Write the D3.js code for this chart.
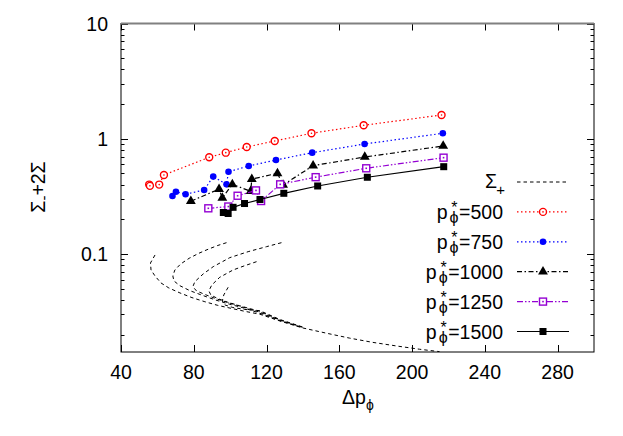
<!DOCTYPE html>
<html>
<head>
<meta charset="utf-8">
<script src="https://cdn.jsdelivr.net/npm/d3@7"></script>
<style>
  body { margin: 0; background: #fff; }
  text { font-family: "Liberation Sans", Arial, sans-serif; fill: #000; }
</style>
</head>
<body>
<svg id="canvas" width="623" height="436"></svg>
<script>
// tick values
var xTicks = [40, 80, 120, 160, 200, 240, 280];
var yTicks = [0.1, 1, 10];
var yTickLabels = ["0.1", "1", "10"];

// p*=500 .. 1500 series (delta p_phi, Sigma_- + 2 Sigma)
var dp500 = [55.5, 55.9, 61.0, 63.6, 88.5, 97.6, 109.1, 124.5, 144.7, 173.4, 216.2];
var s500  = [0.400, 0.390, 0.400, 0.485, 0.690, 0.757, 0.848, 0.956, 1.115, 1.308, 1.607];

var dp750 = [68.3, 70.2, 75.5, 85.7, 90.7, 98.0, 99.1, 110.2, 125.2, 145.1, 173.9, 216.9];
var s750  = [0.318, 0.347, 0.330, 0.359, 0.469, 0.402, 0.517, 0.580, 0.654, 0.757, 0.900, 1.115];

var dp1000 = [78.4, 93.9, 95.7, 101.2, 111.3, 111.9, 126.0, 129.1, 145.6, 174.0, 217.1];
var s1000  = [0.287, 0.365, 0.306, 0.402, 0.350, 0.446, 0.501, 0.397, 0.584, 0.694, 0.865];

var dp1250 = [88.0, 99.0, 104.1, 114.2, 117.0, 127.5, 147.0, 174.8, 217.3];
var s1250  = [0.249, 0.258, 0.320, 0.356, 0.288, 0.402, 0.464, 0.554, 0.685];

var dp1500 = [96.25, 98.9, 101.6, 107.9, 116.4, 129.5, 148.1, 175.4, 217.4];
var s1500  = [0.229, 0.2245, 0.254, 0.274, 0.297, 0.336, 0.389, 0.463, 0.572];

// Sigma_+ curves (one per p*)
var spDp1 = [58.7, 56.2, 56.5, 58.7, 62.0, 66.3, 72.4, 79.0, 86.1, 93.2, 101.0, 108.0, 116.3, 127.3, 139.9, 153.1, 165.7, 178.3, 191.5, 204.1, 215.1];
var spS1  = [0.098, 0.0835, 0.0726, 0.0644, 0.0560, 0.0507, 0.0459, 0.0418, 0.0385, 0.0358, 0.0336, 0.0318, 0.0300, 0.0262, 0.0228, 0.0205, 0.0186, 0.0171, 0.0159, 0.0149, 0.0142];

var spDp2 = [98.0, 93.2, 87.9, 82.8, 77.5, 72.8, 69.6, 68.5, 69.1, 72.4, 77.9, 85.0, 92.1, 99.8, 108.0, 116.3, 127.3, 139.9];
var spS2  = [0.1253, 0.1185, 0.1099, 0.1014, 0.0918, 0.0819, 0.0726, 0.0644, 0.0583, 0.0530, 0.0480, 0.0436, 0.0398, 0.0366, 0.0338, 0.0306, 0.0264, 0.0229];

var spDp3 = [128.2, 120.0, 109.9, 99.8, 90.7, 85.2, 80.6, 79.5, 81.5, 86.0, 92.0, 99.0, 107.0, 116.3, 127.3, 139.9];
var spS3  = [0.1253, 0.1157, 0.1047, 0.0929, 0.0776, 0.0671, 0.0575, 0.0520, 0.0478, 0.0446, 0.0410, 0.0378, 0.0346, 0.0312, 0.0266, 0.0230];

var spDp4 = [114.5, 108.0, 101.6, 94.3, 89.9, 88.3, 89.4, 93.2, 98.5, 105.0, 111.0, 116.3, 127.3, 139.9];
var spS4  = [0.0857, 0.0791, 0.0726, 0.0628, 0.0538, 0.0478, 0.0440, 0.0410, 0.0382, 0.0356, 0.0335, 0.0318, 0.0268, 0.0231];

var spDp5 = [98.9, 96.5, 95.7, 97.1, 101.5, 108.0, 116.3, 127.3, 139.9];
var spS5  = [0.0514, 0.0441, 0.0391, 0.0361, 0.0343, 0.0330, 0.0322, 0.0270, 0.0232];

var legendNames = ["500", "750", "1000", "1250", "1500"];

var canvas = d3.select("#canvas");

// plot box (note: "top" is reserved on window, so use plotTop)
var plotLeft = 121, plotRight = 594, plotTop = 23.5, plotBottom = 352;
var x = d3.scaleLinear().domain([40, 300]).range([plotLeft, plotRight]);
var y = d3.scaleLog().domain([0.0141, 10]).range([plotBottom, plotTop]);

canvas.append("clipPath").attr("id", "clip")
  .append("rect").attr("x", plotLeft).attr("y", plotTop)
  .attr("width", plotRight - plotLeft).attr("height", plotBottom - plotTop);

// ticks
var axisG = canvas.append("g").attr("stroke", "#000").attr("stroke-width", 1);
xTicks.forEach(function(t) {
  var px = Math.round(x(t)) + 0.5;
  axisG.append("line").attr("x1", px).attr("x2", px).attr("y1", plotBottom).attr("y2", plotBottom - 7);
  axisG.append("line").attr("x1", px).attr("x2", px).attr("y1", plotTop).attr("y2", plotTop + 7);
  canvas.append("text").attr("x", x(t)).attr("y", 379).attr("text-anchor", "middle")
    .attr("font-size", 19.5).text(t);
});

var minor = [];
[0.01, 0.1, 1].forEach(function(d) {
  for (var k = 2; k <= 9; k++) minor.push(d * k);
});
minor.forEach(function(t) {
  if (t < 0.0141 || t > 10) return;
  var py = Math.round(y(t)) + 0.5;
  axisG.append("line").attr("x1", plotLeft).attr("x2", plotLeft + 3.5).attr("y1", py).attr("y2", py);
  axisG.append("line").attr("x1", plotRight).attr("x2", plotRight - 3.5).attr("y1", py).attr("y2", py);
});
yTicks.forEach(function(t, i) {
  var py = Math.round(y(t)) + 0.5;
  axisG.append("line").attr("x1", plotLeft).attr("x2", plotLeft + 7).attr("y1", py).attr("y2", py);
  axisG.append("line").attr("x1", plotRight).attr("x2", plotRight - 7).attr("y1", py).attr("y2", py);
  canvas.append("text").attr("x", 108).attr("y", y(t) + 7).attr("text-anchor", "end")
    .attr("font-size", 19.5).text(yTickLabels[i]);
});

// frame (top edge comes out grey and soft in the original)
canvas.append("rect").attr("x", plotLeft).attr("y", plotTop)
  .attr("width", plotRight - plotLeft).attr("height", plotBottom - plotTop)
  .attr("fill", "none").attr("stroke", "#000").attr("stroke-width", 1);
canvas.append("line").attr("x1", plotLeft).attr("x2", plotRight).attr("y1", plotTop).attr("y2", plotTop)
  .attr("stroke", "#808080").attr("stroke-width", 2);

// Sigma_+ curves
var line = d3.line().x(function(d) { return x(d[0]); }).y(function(d) { return y(d[1]); });
var plot = canvas.append("g").attr("clip-path", "url(#clip)");

[[spDp1, spS1], [spDp2, spS2], [spDp3, spS3], [spDp4, spS4], [spDp5, spS5]].forEach(function(c) {
  plot.append("path")
    .attr("d", line(d3.zip(c[0], c[1])))
    .attr("fill", "none").attr("stroke", "#000").attr("stroke-width", 1)
    .attr("stroke-dasharray", "3.5,3");
});

// series definitions
var series = [
  { dp: dp500,  s: s500,  color: "#ff0000", dash: "1.5,2.5", mark: "ocircle" },
  { dp: dp750,  s: s750,  color: "#0000ff", dash: "1.5,2.5", mark: "circle" },
  { dp: dp1000, s: s1000, color: "#000000", dash: "5,2.5,1.5,2.5", mark: "triangle" },
  { dp: dp1250, s: s1250, color: "#9400d3", dash: "6,2,1.5,2,1.5,2", mark: "osquare" },
  { dp: dp1500, s: s1500, color: "#000000", dash: null, mark: "square" }
];

function marker(g, type, cx, cy, color) {
  if (type == "ocircle") {
    g.append("circle").attr("cx", cx).attr("cy", cy).attr("r", 3.5)
      .attr("fill", "#fff").attr("stroke", color).attr("stroke-width", 1.4);
    g.append("circle").attr("cx", cx).attr("cy", cy).attr("r", 0.8).attr("fill", color);
  } else if (type == "circle") {
    g.append("circle").attr("cx", cx).attr("cy", cy).attr("r", 3.3).attr("fill", color);
  } else if (type == "triangle") {
    g.append("path").attr("d", d3.symbol().type(d3.symbolTriangle).size(42)())
      .attr("transform", "translate(" + cx + "," + cy + ")").attr("fill", color);
  } else if (type == "osquare") {
    g.append("rect").attr("x", cx - 3.5).attr("y", cy - 3.5).attr("width", 7).attr("height", 7)
      .attr("fill", "#fff").attr("stroke", color).attr("stroke-width", 1.4);
    g.append("rect").attr("x", cx - 0.8).attr("y", cy - 0.8).attr("width", 1.6).attr("height", 1.6).attr("fill", color);
  } else {
    g.append("rect").attr("x", cx - 3.5).attr("y", cy - 3.5).attr("width", 7).attr("height", 7).attr("fill", color);
  }
}

series.forEach(function(sr) {
  var pts = d3.zip(sr.dp, sr.s);
  var p = plot.append("path").attr("d", line(pts))
    .attr("fill", "none").attr("stroke", sr.color).attr("stroke-width", 1.2);
  if (sr.dash) p.attr("stroke-dasharray", sr.dash);
  pts.forEach(function(d) { marker(plot, sr.mark, x(d[0]), y(d[1]), sr.color); });
});

// legend
var lx0 = 517, lx1 = 569, lxm = 543, textR = 503;
var ly0 = 182, lstep = 29.9;

var lg = canvas.append("g");
lg.append("line").attr("x1", lx0).attr("x2", lx1).attr("y1", ly0).attr("y2", ly0)
  .attr("stroke", "#000").attr("stroke-width", 1).attr("stroke-dasharray", "3.5,3");
lg.append("text").attr("x", 505).attr("y", ly0 + 12.5).attr("text-anchor", "end").attr("font-size", 15).text("+");
lg.append("text").attr("x", 497).attr("y", ly0 + 6).attr("text-anchor", "end").attr("font-size", 19.5).text("Σ");

series.forEach(function(sr, i) {
  var ly = ly0 + (i + 1) * lstep;
  var l = lg.append("line").attr("x1", lx0).attr("x2", lx1).attr("y1", ly).attr("y2", ly)
    .attr("stroke", sr.color).attr("stroke-width", 1.2);
  if (sr.dash) l.attr("stroke-dasharray", sr.dash);
  marker(lg, sr.mark, lxm, ly, sr.color);

  var t = lg.append("text").attr("x", textR).attr("y", ly + 7).attr("text-anchor", "end")
    .attr("font-size", 19.5).text("=" + legendNames[i]);
  var xs = textR - t.node().getComputedTextLength();
  // p with subscript phi and superscript star stacked
  var sc = lg.append("text").attr("text-anchor", "end").attr("font-size", 16);
  sc.append("tspan").attr("x", xs - 0.5).attr("y", ly + 11).text("ϕ");
  sc.append("tspan").attr("x", xs - 1.5).attr("y", ly + 1).text("*");
  lg.append("text").attr("x", xs - 11.5).attr("y", ly + 7).attr("text-anchor", "end").attr("font-size", 19.5).text("p");
});

// axis titles
var xt = canvas.append("text").attr("x", 342).attr("y", 404).attr("font-size", 19.5);
xt.append("tspan").text("Δp");
xt.append("tspan").attr("dy", 6).attr("font-size", 14).text("ϕ");

var yt = canvas.append("text").attr("transform", "translate(45,187) rotate(-90)")
  .attr("text-anchor", "middle").attr("font-size", 19.5);
yt.append("tspan").text("Σ");
yt.append("tspan").attr("dy", 4).attr("font-size", 15).text("-");
yt.append("tspan").attr("dy", -4).text("+2Σ");
</script>
</body>
</html>
